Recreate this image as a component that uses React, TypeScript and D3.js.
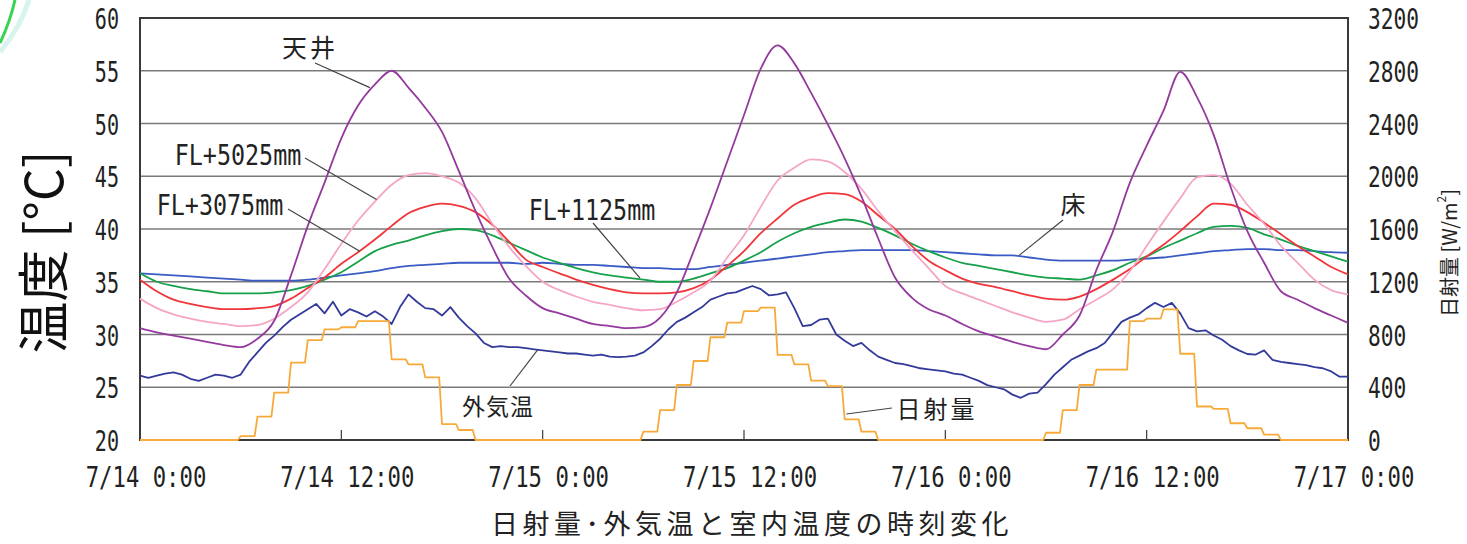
import * as d3 from "d3";

// 7/14 0:00 – 7/17 0:00, one reading per hour (index = hour)
const ceiling = [
  30.6, 30.2, 29.9, 29.6, 29.3, 29.0, 28.8, 29.6, 31.3, 35.6,
  40.3, 44.4, 48.6, 51.7, 53.7, 55.0, 53.4, 51.5, 49.2, 45.5,
  41.7, 38.3, 35.3, 33.7, 32.5, 32.0, 31.5, 31.0, 30.8, 30.6,
  30.7, 31.6, 34.0, 37.9, 42.0, 46.4, 50.8, 55.2, 57.4, 55.7,
  52.9, 49.9, 46.7, 43.1, 39.1, 35.4, 33.5, 32.4, 31.8, 31.0,
  30.3, 29.8, 29.3, 28.9, 28.6, 30.0, 31.8, 36.1, 39.8, 44.4,
  47.9, 51.2, 54.9, 52.5, 48.9, 44.0, 39.8, 36.8, 34.1, 33.3,
  32.5, 31.8, 31.1,
];
const fl5025 = [
  33.4, 32.5, 31.9, 31.5, 31.2, 31.0, 30.8, 30.9, 31.5, 32.6,
  34.0, 36.2, 38.6, 40.8, 42.6, 44.2, 45.1, 45.3, 45.0, 44.4,
  42.9, 40.5, 38.3, 36.5, 35.0, 34.2, 33.6, 33.1, 32.8, 32.5,
  32.3, 32.4, 33.1, 34.0, 35.1, 37.3, 39.4, 42.1, 44.6, 45.8,
  46.6, 46.4, 45.4, 43.8, 41.7, 39.8, 38.0, 36.3, 34.6, 33.9,
  33.3, 32.7, 32.1, 31.6, 31.2, 31.4, 32.4, 33.3, 34.3, 36.0,
  38.4, 40.7, 42.9, 44.9, 45.1, 44.3, 42.3, 40.5, 38.4, 36.8,
  35.2, 34.2, 33.8,
];
const fl3075 = [
  35.2, 34.1, 33.3, 32.9, 32.6, 32.4, 32.4, 32.5, 32.7, 33.4,
  34.4, 35.4, 36.7, 37.8, 39.0, 40.3, 41.5, 42.1, 42.4, 42.2,
  41.6, 40.4, 38.8, 37.1, 36.4, 35.8, 35.2, 34.7, 34.3, 34.0,
  33.9, 33.9, 34.0, 34.4, 35.2, 36.5, 37.9, 39.6, 41.0, 42.3,
  43.0, 43.4, 43.3, 42.6, 41.3, 40.0, 38.4, 37.0, 36.1, 35.3,
  34.8, 34.5, 34.1, 33.7, 33.4, 33.3, 33.6, 34.3, 35.2, 36.2,
  37.4, 38.5, 39.8, 41.2, 42.4, 42.3, 41.6, 40.6, 39.5, 38.4,
  37.4, 36.4, 35.7,
];
const fl1125 = [
  35.8, 35.0, 34.6, 34.3, 34.1, 33.9, 33.9, 33.9, 34.0, 34.2,
  34.6, 35.2, 35.9, 36.9, 37.9, 38.5, 38.9, 39.4, 39.8, 40.0,
  39.9, 39.4, 38.7, 38.0, 37.3, 36.8, 36.3, 35.9, 35.6, 35.4,
  35.2, 35.0, 35.0, 35.3, 35.8, 36.3, 37.0, 37.8, 38.8, 39.6,
  40.2, 40.6, 40.9, 40.7, 40.1, 39.4, 38.6, 37.9, 37.3, 36.8,
  36.5, 36.2, 35.9, 35.6, 35.4, 35.3, 35.2, 35.6, 36.1, 36.8,
  37.4, 38.2, 38.9, 39.6, 40.2, 40.3, 40.1, 39.5, 39.0, 38.4,
  37.9, 37.4, 36.9,
];
const floorTemp = [
  35.8, 35.7, 35.6, 35.5, 35.4, 35.3, 35.2, 35.1, 35.1, 35.1,
  35.2, 35.4, 35.6, 35.8, 36.0, 36.3, 36.5, 36.6, 36.7, 36.8,
  36.8, 36.8, 36.8, 36.7, 36.8, 36.7, 36.6, 36.6, 36.5, 36.4,
  36.3, 36.3, 36.2, 36.2, 36.4, 36.6, 36.8, 37.0, 37.2, 37.4,
  37.6, 37.8, 37.9, 38.0, 38.0, 38.0, 38.0, 37.9, 37.8, 37.7,
  37.6, 37.5, 37.5, 37.3, 37.1, 37.0, 37.0, 37.0, 37.0, 37.1,
  37.2, 37.3, 37.5, 37.7, 37.9, 38.0, 38.1, 38.1, 38.0, 38.0,
  37.9, 37.8, 37.75,
];
// outdoor air, every 30 minutes
const outdoor = [
  26.1, 25.9, 26.1, 26.3, 26.4, 26.2, 25.8, 25.6, 25.9, 26.2,
  26.1, 25.9, 26.2, 27.4, 28.3, 29.2, 29.9, 30.7, 31.4, 31.9,
  32.4, 32.9, 32.0, 33.1, 31.8, 32.4, 32.1, 31.7, 32.2, 31.7,
  31.0, 32.6, 33.8, 33.1, 32.5, 32.4, 31.8, 32.6, 31.6, 30.8,
  30.1, 29.2, 28.8, 28.9, 28.8, 28.8, 28.7, 28.6, 28.5, 28.4,
  28.3, 28.2, 28.2, 28.1, 28.0, 28.1, 27.9, 27.85, 27.9, 28.0,
  28.3, 28.9, 29.6, 30.5, 31.2, 31.6, 32.1, 32.6, 33.3, 33.6,
  33.9, 34.0, 34.3, 34.6, 34.3, 33.7, 33.8, 34.0, 32.5, 30.8,
  30.9, 31.4, 31.5, 30.0, 29.4, 28.9, 29.2, 28.5, 27.9, 27.6,
  27.3, 27.2, 27.0, 26.8, 26.7, 26.6, 26.5, 26.3, 26.2, 25.9,
  25.6, 25.2, 25.0, 24.8, 24.3, 24.0, 24.4, 24.5, 25.3, 26.2,
  26.9, 27.6, 28.0, 28.4, 28.7, 29.2, 30.2, 31.2, 31.6, 31.9,
  32.5, 33.0, 32.6, 33.0, 32.0, 30.6, 30.3, 30.4, 29.9, 29.5,
  28.9, 28.5, 28.15, 28.1, 28.5, 27.6, 27.4, 27.3, 27.2, 27.1,
  26.9, 26.8, 26.5, 26.0, 26.0,
];
// solar radiation [W/m2], hourly value held from hour h to h+1
const solar = [
  0, 0, 0, 0, 0, 0, 30, 177, 359, 586,
  758, 839, 855, 902, 902, 612, 574, 475, 121, 76,
  0, 0, 0, 0, 0, 0, 0, 0, 0, 0,
  63, 227, 417, 599, 779, 890, 978, 1004, 645, 574,
  450, 409, 157, 63, 0, 0, 0, 0, 0, 0,
  0, 0, 0, 0, 55, 227, 417, 533, 533, 902,
  920, 990, 654, 254, 236, 127, 89, 41, 0, 0,
  0, 0,
];

const xTickLabels = ["7/14 0:00", "7/14 12:00", "7/15 0:00", "7/15 12:00", "7/16 0:00", "7/16 12:00", "7/17 0:00"];
const tempTicks = [20, 25, 30, 35, 40, 45, 50, 55, 60];
const solarTicks = [0, 400, 800, 1200, 1600, 2000, 2400, 2800, 3200];

const width = 1467;
const height = 544;
const plot = { left: 140, right: 1348, top: 18, bottom: 440 };

const x = d3.scaleLinear().domain([0, 72]).range([plot.left, plot.right]);
const yT = d3.scaleLinear().domain([20, 60]).range([plot.bottom, plot.top]);
const yS = d3.scaleLinear().domain([0, 3200]).range([plot.bottom, plot.top]);

const hourLine = d3
  .line<number>()
  .x((_, i) => x(i))
  .y((d) => yT(d))
  .curve(d3.curveMonotoneX);
const halfHourLine = d3
  .line<number>()
  .x((_, i) => x(i / 2))
  .y((d) => yT(d));

// each hourly value is held for 50 min, then ramps to the next one
const solarPts: [number, number][] = solar
  .flatMap((v, h) => [[h, v], [h + 5 / 6, v]] as [number, number][])
  .concat([[72, 0]]);
const solarLine = d3
  .line<[number, number]>()
  .x((d) => x(d[0]))
  .y((d) => yS(d[1]));

const numFont = "'DejaVu Sans Mono', monospace";
const jpFont = "'Noto Sans CJK JP', 'Noto Sans', sans-serif";
const ink = "#222";

const Num = ({ tx, ty, anchor, sx, size = 27.5, children }: any) => (
  <text
    transform={`translate(${tx},${ty}) scale(${sx},1)`}
    textAnchor={anchor}
    fontFamily={numFont}
    fontSize={size}
    fill={ink}
    style={{ whiteSpace: "pre" }}
  >
    {children}
  </text>
);

const Leader = ({ x1, y1, x2, y2 }: any) => (
  <line x1={x1} y1={y1} x2={x2} y2={y2} stroke="#444" strokeWidth={1.2} />
);

export default function App() {
  return (
    <svg
      width={width}
      height={height}
      style={{ position: "absolute", left: 0, top: 0, background: "#fff" }}
    >
      {/* corner decoration */}
      <path d="M0,52 Q20,28 29,0" fill="none" stroke="#d9f3ee" strokeWidth={5} />
      <path d="M0,43 Q10,22 15,0" fill="none" stroke="#39d353" strokeWidth={3} />

      {/* gridlines */}
      {tempTicks.slice(1, -1).map((t) => (
        <line key={t} x1={plot.left} x2={plot.right} y1={yT(t)} y2={yT(t)} stroke="#7a7a7a" strokeWidth={1.5} />
      ))}

      {/* frame */}
      <rect
        x={plot.left}
        y={plot.top}
        width={plot.right - plot.left}
        height={plot.bottom - plot.top}
        fill="none"
        stroke="#3a3a3a"
        strokeWidth={2}
      />
      {xTickLabels.slice(1, -1).map((_, i) => (
        <line key={i} x1={x((i + 1) * 12)} x2={x((i + 1) * 12)} y1={plot.bottom} y2={plot.bottom - 10} stroke="#3a3a3a" strokeWidth={1.2} />
      ))}

      {/* series */}
      <g fill="none" strokeWidth={1.8} strokeLinejoin="round">
        <path d={hourLine(floorTemp) ?? ""} stroke="#3b5bc4" />
        <path d={hourLine(fl1125) ?? ""} stroke="#17a14b" />
        <path d={hourLine(fl3075) ?? ""} stroke="#f0363a" />
        <path d={hourLine(fl5025) ?? ""} stroke="#f5a6c6" />
        <path d={hourLine(ceiling) ?? ""} stroke="#943a9e" />
        <path d={halfHourLine(outdoor) ?? ""} stroke="#333a9a" />
        <path d={solarLine(solarPts) ?? ""} stroke="#f7aa3a" />
      </g>

      {/* left axis labels */}
      {tempTicks.map((t) => (
        <Num key={t} tx={119} ty={yT(t) + 11} anchor="end" sx={0.73}>
          {t}
        </Num>
      ))}
      {/* right axis labels */}
      {solarTicks.map((t) => (
        <Num key={t} tx={1368} ty={yS(t) + 11} anchor="start" sx={0.77}>
          {t}
        </Num>
      ))}
      {/* x axis labels */}
      {xTickLabels.map((l, i) => (
        <Num key={l} tx={x(i * 12) + 6} ty={487} anchor="middle" sx={0.81}>
          {l}
        </Num>
      ))}

      {/* axis titles */}
      <text
        transform="translate(40,252) rotate(-90)"
        textAnchor="middle"
        dominantBaseline="central"
        fontFamily={jpFont}
        fontSize={52}
        fill="#111"
      >
        温度 [°C]
      </text>
      <text
        transform="translate(1448,253) rotate(-90)"
        textAnchor="middle"
        dominantBaseline="central"
        fontFamily={jpFont}
        fontSize={20}
        fill={ink}
      >
        日射量 [W/m<tspan fontSize={12} dy={-8}>2</tspan>
        <tspan dy={8}>]</tspan>
      </text>
      <text x={752} y={534} textAnchor="middle" fontFamily={jpFont} fontSize={27} letterSpacing={4.5} fill={ink}>
        日射量･外気温と室内温度の時刻変化
      </text>

      {/* annotations */}
      <Leader x1={315} y1={63} x2={x(13.7)} y2={yT(53.4)} />
      <text x={310} y={57} textAnchor="middle" fontFamily={jpFont} fontSize={25} letterSpacing={3} fill={ink}>
        天井
      </text>

      <Leader x1={305} y1={158} x2={x(14.1)} y2={yT(42.8)} />
      <Num tx={238} ty={165} anchor="middle" sx={0.85}>FL+5025mm</Num>

      <Leader x1={288} y1={209} x2={x(13.1)} y2={yT(37.9)} />
      <Num tx={220} ty={215} anchor="middle" sx={0.85}>FL+3075mm</Num>

      <Leader x1={593} y1={223} x2={x(29.8)} y2={yT(35.35)} />
      <Num tx={592} ty={220} anchor="middle" sx={0.85}>FL+1125mm</Num>

      <Leader x1={1063} y1={220} x2={x(52.4)} y2={yT(37.5)} />
      <text x={1073} y={214} textAnchor="middle" fontFamily={jpFont} fontSize={25} fill={ink}>
        床
      </text>

      <Leader x1={510} y1={386} x2={x(23.7)} y2={yT(28.55)} />
      <text x={498} y={415} textAnchor="middle" fontFamily={jpFont} fontSize={23} letterSpacing={1} fill={ink}>
        外気温
      </text>

      <Leader x1={892} y1={408} x2={x(42.1)} y2={yS(197)} />
      <text x={937} y={418} textAnchor="middle" fontFamily={jpFont} fontSize={24} letterSpacing={3} fill={ink}>
        日射量
      </text>
    </svg>
  );
}
